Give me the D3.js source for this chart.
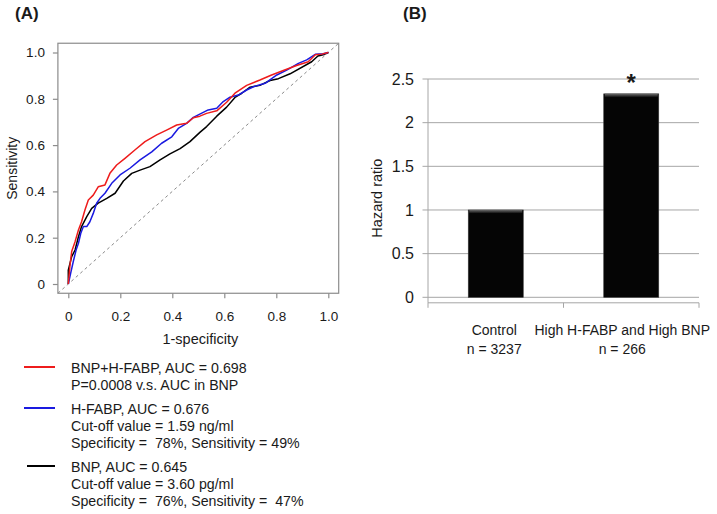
<!DOCTYPE html>
<html>
<head>
<meta charset="utf-8">
<script src="https://cdn.jsdelivr.net/npm/d3@7/dist/d3.min.js"></script>
<style>
  html, body { margin: 0; padding: 0; background: #fff; }
  svg { display: block; }
  text { font-family: "Liberation Sans", Arial, sans-serif; fill: #1a1a1a; }
</style>
</head>
<body>
<svg id="chart" width="717" height="514"></svg>
<script>
// ---------------- DATA ----------------
// Panel A: ROC curves, [1-specificity, sensitivity]
const rocCombined = [
  [0,0],[0.006,0.075],[0.013,0.14],[0.026,0.183],[0.039,0.233],[0.051,0.269],[0.064,0.32],
  [0.077,0.363],[0.096,0.384],[0.115,0.42],[0.141,0.428],[0.16,0.478],[0.186,0.514],
  [0.218,0.543],[0.256,0.579],[0.295,0.615],[0.34,0.644],[0.378,0.665],[0.417,0.687],
  [0.455,0.694],[0.481,0.718],[0.506,0.725],[0.532,0.737],[0.571,0.748],[0.609,0.785],
  [0.641,0.824],[0.686,0.858],[0.737,0.881],[0.782,0.903],[0.827,0.922],[0.878,0.944],
  [0.923,0.96],[0.95,0.99],[0.975,0.993],[1,1]
];
const rocHFABP = [
  [0,0],[0.009,0.046],[0.019,0.096],[0.03,0.147],[0.039,0.176],[0.048,0.219],[0.058,0.248],
  [0.071,0.248],[0.083,0.269],[0.096,0.305],[0.109,0.349],[0.122,0.37],[0.141,0.392],
  [0.167,0.435],[0.199,0.471],[0.237,0.5],[0.276,0.536],[0.321,0.571],[0.359,0.608],
  [0.398,0.636],[0.423,0.672],[0.455,0.694],[0.481,0.72],[0.538,0.752],[0.571,0.759],
  [0.596,0.788],[0.622,0.807],[0.654,0.816],[0.686,0.838],[0.712,0.852],[0.757,0.867],
  [0.802,0.903],[0.84,0.924],[0.885,0.953],[0.917,0.968],[0.95,0.992],[0.98,0.995],[1,1]
];
const rocBNP = [
  [0,0],[0,0.06],[0.013,0.118],[0.026,0.147],[0.039,0.204],[0.051,0.248],[0.071,0.291],
  [0.09,0.327],[0.115,0.349],[0.148,0.37],[0.18,0.392],[0.212,0.445],[0.244,0.478],
  [0.276,0.492],[0.314,0.507],[0.353,0.536],[0.391,0.562],[0.43,0.585],[0.468,0.615],
  [0.506,0.655],[0.532,0.68],[0.571,0.725],[0.609,0.764],[0.641,0.806],[0.667,0.824],
  [0.699,0.85],[0.737,0.858],[0.776,0.879],[0.808,0.887],[0.853,0.908],[0.936,0.96],
  [0.96,0.985],[0.98,0.99],[1,1]
];
const rocTicks = [0, 0.2, 0.4, 0.6, 0.8, 1.0];
const rocTickLabels = ["0", "0.2", "0.4", "0.6", "0.8", "1.0"];
const rocSeriesNames = ["BNP+H-FABP", "H-FABP", "BNP"];
const rocColors = ["#ee1c1c", "#1a1ae0", "#000000"];
const legendLines = [
  ["BNP+H-FABP, AUC = 0.698", "P=0.0008 v.s. AUC in BNP"],
  ["H-FABP, AUC = 0.676", "Cut-off value = 1.59 ng/ml", "Specificity =  78%, Sensitivity = 49%"],
  ["BNP, AUC = 0.645", "Cut-off value = 3.60 pg/ml", "Specificity =  76%, Sensitivity =  47%"]
];

// Panel B: hazard ratio bars
const hrCategories = ["Control", "High H-FABP and High BNP"];
const hrSubLabels = ["n = 3237", "n = 266"];
const hrValues = [1.0, 2.33];
const hrSignificant = [false, true];
const hrTicks = [0, 0.5, 1, 1.5, 2, 2.5];
const hrTickLabels = ["0", "0.5", "1", "1.5", "2", "2.5"];

// ---------------- DRAW ----------------
const svg = d3.select("#chart");

// ===== Panel A =====
const xA = d3.scaleLinear().domain([0, 1]).range([68.3, 328.3]);
const yA = d3.scaleLinear().domain([0, 1]).range([284, 52.5]);
const ext = 0.04;
const boxL = xA(-ext), boxR = xA(1 + ext), boxT = yA(1 + ext), boxB = yA(-ext);

svg.append("text").attr("x", 15).attr("y", 19)
  .style("font-size", "17px").style("font-weight", "bold").text("(A)");

svg.append("defs").append("clipPath").attr("id", "clipA")
  .append("rect").attr("x", boxL).attr("y", boxT)
  .attr("width", boxR - boxL).attr("height", boxB - boxT);

const gA = svg.append("g");

// diagonal reference y = x
gA.append("line")
  .attr("clip-path", "url(#clipA)")
  .attr("x1", xA(-ext)).attr("y1", yA(-ext))
  .attr("x2", xA(1 + ext)).attr("y2", yA(1 + ext))
  .attr("stroke", "#8a8a8a").attr("stroke-width", 1)
  .attr("stroke-dasharray", "3,3");

const lineA = d3.line().x(d => xA(d[0])).y(d => yA(d[1]));
const rocData = [rocBNP, rocHFABP, rocCombined];
const rocCol = [rocColors[2], rocColors[1], rocColors[0]];
rocData.forEach((ser, i) => {
  gA.append("path").datum(ser)
    .attr("clip-path", "url(#clipA)")
    .attr("d", lineA)
    .attr("fill", "none")
    .attr("stroke", rocCol[i])
    .attr("stroke-width", 1.5)
    .attr("stroke-linejoin", "round");
});

// box
gA.append("rect").attr("x", boxL).attr("y", boxT)
  .attr("width", boxR - boxL).attr("height", boxB - boxT)
  .attr("fill", "none").attr("stroke", "#8c8c8c").attr("stroke-width", 1.2);

// axes
const axAy = d3.axisLeft(yA).tickValues(rocTicks)
  .tickFormat((d, i) => rocTickLabels[i]).tickSize(5).tickPadding(8);
const gAy = gA.append("g").attr("transform", `translate(${boxL},0)`).call(axAy);
const axAx = d3.axisBottom(xA).tickValues(rocTicks)
  .tickFormat((d, i) => rocTickLabels[i]).tickSize(5).tickPadding(13);
const gAx = gA.append("g").attr("transform", `translate(0,${boxB})`).call(axAx);
[gAy, gAx].forEach(g => {
  g.select(".domain").remove();
  g.selectAll(".tick line").attr("stroke", "#8c8c8c").attr("stroke-width", 1.2);
  g.selectAll(".tick text").style("font-size", "13.5px").attr("fill", "#1a1a1a")
    .style("font-family", '"Liberation Sans", Arial, sans-serif');
});

svg.append("text")
  .attr("transform", `translate(17,${(boxT + boxB) / 2}) rotate(-90)`)
  .attr("text-anchor", "middle").style("font-size", "14px").text("Sensitivity");
svg.append("text").attr("x", (boxL + boxR) / 2 + 2).attr("y", 344)
  .attr("text-anchor", "middle").style("font-size", "14.5px").text("1-specificity");

// legend
const legTop = [373, 414, 472];
const legLineH = 16.8;
legendLines.forEach((lines, i) => {
  const y0 = legTop[i];
  svg.append("line")
    .attr("x1", i === 2 ? 27 : 24).attr("x2", 55)
    .attr("y1", y0 - 6).attr("y2", y0 - 6)
    .attr("stroke", rocColors[i]).attr("stroke-width", 2);
  lines.forEach((t, j) => {
    svg.append("text").attr("x", 71).attr("y", y0 + j * legLineH)
      .attr("xml:space", "preserve").style("white-space", "pre")
      .style("font-size", "14.2px").text(t);
  });
});

// ===== Panel B =====
const yB = d3.scaleLinear().domain([0, 2.5]).range([297.3, 79]);
const xB = d3.scaleBand().domain(hrCategories).range([428, 699])
  .paddingInner(0.594).paddingOuter(0.297);
const stepB = xB.step();
const axisYB = yB(0) + 5.5;

svg.append("text").attr("x", 403).attr("y", 19)
  .style("font-size", "17px").style("font-weight", "bold").text("(B)");

const gB = svg.append("g");
// gridlines with left tick
hrTicks.forEach((t, i) => {
  gB.append("line").attr("x1", 422.5).attr("x2", 699)
    .attr("y1", yB(t)).attr("y2", yB(t))
    .attr("stroke", "#a6a6a6").attr("stroke-width", 1);
  gB.append("text").attr("x", 414).attr("y", yB(t)).attr("dy", "0.36em")
    .attr("text-anchor", "end").style("font-size", "16px").text(hrTickLabels[i]);
});
// vertical axis
gB.append("line").attr("x1", 428).attr("x2", 428)
  .attr("y1", yB(2.5)).attr("y2", axisYB)
  .attr("stroke", "#a6a6a6").attr("stroke-width", 1);
// category axis
gB.append("line").attr("x1", 428).attr("x2", 699)
  .attr("y1", axisYB).attr("y2", axisYB)
  .attr("stroke", "#a6a6a6").attr("stroke-width", 1);
[428, 428 + stepB, 428 + 2 * stepB].forEach(x => {
  gB.append("line").attr("x1", x).attr("x2", x)
    .attr("y1", axisYB).attr("y2", axisYB + 5)
    .attr("stroke", "#a6a6a6").attr("stroke-width", 1);
});

// bars
const defs = svg.select("defs");
const grad = defs.append("linearGradient").attr("id", "barTop")
  .attr("x1", 0).attr("y1", 0).attr("x2", 0).attr("y2", 1);
grad.append("stop").attr("offset", "0%").attr("stop-color", "#6a6a6a");
grad.append("stop").attr("offset", "100%").attr("stop-color", "#080808");

hrCategories.forEach((c, i) => {
  const x = xB(c), w = xB.bandwidth();
  const yt = yB(hrValues[i]);
  gB.append("rect").attr("x", x).attr("y", yt)
    .attr("width", w).attr("height", yB(0) - yt)
    .attr("fill", "#050505").attr("stroke", "#3a3a3a").attr("stroke-width", 0.6);
  gB.append("rect").attr("x", x + 1).attr("y", yt)
    .attr("width", w - 2).attr("height", 3.5)
    .attr("fill", "url(#barTop)");
  if (hrSignificant[i]) {
    gB.append("text").attr("x", x + w / 2).attr("y", yt - 3)
      .attr("text-anchor", "middle").style("font-size", "24px")
      .style("font-weight", "bold").text("*");
  }
});

// category labels
const labelShift = [-1.5, -9];
hrCategories.forEach((c, i) => {
  const cx = xB(c) + xB.bandwidth() / 2 + labelShift[i];
  svg.append("text").attr("x", cx).attr("y", 335)
    .attr("text-anchor", "middle").style("font-size", "14px").text(c);
  svg.append("text").attr("x", cx).attr("y", 354)
    .attr("text-anchor", "middle").style("font-size", "14px").text(hrSubLabels[i]);
});

svg.append("text")
  .attr("transform", `translate(382,${(yB(0) + yB(2.5)) / 2 + 10}) rotate(-90)`)
  .attr("text-anchor", "middle").style("font-size", "14.5px").text("Hazard ratio");
</script>
</body>
</html>
